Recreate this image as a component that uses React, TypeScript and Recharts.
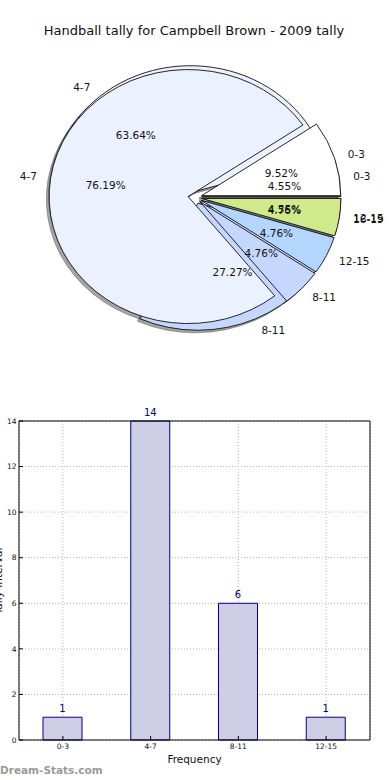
import React from 'react';
import { PieChart, Pie, Cell, BarChart, Bar, XAxis, YAxis, CartesianGrid, LabelList } from 'recharts';

const chartTitle = 'Handball tally for Campbell Brown - 2009 tally';
const upperRanges = ['0-3', '4-7', '8-11', '12-15', '16-19'];
const upperValues = [2, 16, 1, 1, 1];
const lowerRanges = ['0-3', '4-7', '8-11', '12-15'];
const lowerValues = [1, 14, 6, 1];
const barCategories = ['0-3', '4-7', '8-11', '12-15'];
const barValues = [1, 14, 6, 1];
const yTicks = [0, 2, 4, 6, 8, 10, 12, 14];
const xAxisTitle = 'Frequency';
const yAxisTitle = 'Tally Interval';
const watermark = 'Dream-Stats.com';

const sliceColors = ['#ffffff', '#ebf1fe', '#c6d7fe', '#b4d6fe', '#d0ea8b'];

const upperData = upperRanges.map((name, i) => ({ name, value: upperValues[i] }));
const lowerData = lowerRanges.map((name, i) => ({ name, value: lowerValues[i] }));
const barData = barCategories.map((range, i) => ({ range, count: barValues[i] }));

const FONT = '"DejaVu Sans", sans-serif';
const Y_SQUASH = 127 / 139;
const EXPLODE = 0.05;
const RAD = Math.PI / 180;

function wedgePath(p: any, shadow: boolean) {
  const rx = p.outerRadius;
  const ry = rx * Y_SQUASH;
  const s = p.startAngle;
  const e = p.endAngle;
  const mid = ((s + e) / 2) * RAD;
  let ox = p.cx + EXPLODE * rx * Math.cos(mid);
  let oy = p.cy - EXPLODE * ry * Math.sin(mid);
  if (shadow) {
    ox -= 0.02 * rx;
    oy += 0.02 * ry;
  }
  const x1 = ox + rx * Math.cos(s * RAD);
  const y1 = oy - ry * Math.sin(s * RAD);
  const x2 = ox + rx * Math.cos(e * RAD);
  const y2 = oy - ry * Math.sin(e * RAD);
  const large = Math.abs(e - s) > 180 ? 1 : 0;
  const sweep = e > s ? 0 : 1;
  return `M${ox},${oy}L${x1},${y1}A${rx},${ry} 0 ${large} ${sweep} ${x2},${y2}Z`;
}

const WedgeShape = (p: any) => (
  <path d={wedgePath(p, false)} fill={p.fill} stroke="#111" strokeWidth={0.9} strokeLinejoin="miter" />
);
const ShadowShape = (p: any) => (
  <path d={wedgePath(p, true)} fill="#4c4c4c" fillOpacity={0.5} stroke="#4c4c4c" strokeOpacity={0.5} strokeWidth={0.9} />
);
const EmptyShape = () => <g />;

const PieLabel = (p: any) => {
  const rx = p.outerRadius;
  const ry = rx * Y_SQUASH;
  const m = p.midAngle * RAD;
  const c = Math.cos(m);
  const sn = Math.sin(m);
  const lx = p.cx + (1.1 + EXPLODE) * rx * c;
  const ly = p.cy - (1.1 + EXPLODE) * ry * sn;
  const px = p.cx + (0.6 + EXPLODE) * rx * c;
  const py = p.cy - (0.6 + EXPLODE) * ry * sn;
  const pct = (p.percent * 100).toFixed(2) + '%';
  const name = p.name ?? (p.payload && p.payload.name);
  return (
    <g>
      <text x={lx} y={ly} dy="0.36em" textAnchor={c > 0 ? 'start' : 'end'} fontSize={10.5} fill="#111" fontFamily={FONT}>
        {name}
      </text>
      <text x={px} y={py} dy="0.36em" textAnchor="middle" fontSize={10.5} fill="#111" fontFamily={FONT}>
        {pct}
      </text>
    </g>
  );
};

const CX = 195;
const CY = 197.5;
const R = 139;

export default function App() {
  return (
    <div
      style={{
        position: 'absolute',
        left: 0,
        top: 0,
        width: 390,
        height: 780,
        background: '#fff',
        overflow: 'hidden',
        fontFamily: FONT,
      }}
    >
      <div style={{ position: 'absolute', left: 0, top: 0 }}>
        <PieChart width={390} height={390} margin={{ top: 0, right: 0, bottom: 0, left: 0 }}>
          <Pie data={lowerData} dataKey="value" nameKey="name" cx={CX} cy={CY} outerRadius={R} startAngle={0} endAngle={360}
            shape={ShadowShape} inactiveShape={ShadowShape} fill="none" stroke="none" labelLine={false} isAnimationActive={false} />
          <Pie data={upperData} dataKey="value" nameKey="name" cx={CX} cy={CY} outerRadius={R} startAngle={0} endAngle={360}
            shape={ShadowShape} inactiveShape={ShadowShape} fill="none" stroke="none" labelLine={false} isAnimationActive={false} />
          <Pie data={lowerData} dataKey="value" nameKey="name" cx={CX} cy={CY} outerRadius={R} startAngle={0} endAngle={360}
            shape={WedgeShape} inactiveShape={WedgeShape} stroke="#111" labelLine={false} isAnimationActive={false}>
            {lowerData.map((d, i) => (
              <Cell key={d.name} fill={sliceColors[i]} />
            ))}
          </Pie>
          <Pie data={upperData} dataKey="value" nameKey="name" cx={CX} cy={CY} outerRadius={R} startAngle={0} endAngle={360}
            shape={WedgeShape} inactiveShape={WedgeShape} stroke="#111" labelLine={false} isAnimationActive={false}>
            {upperData.map((d, i) => (
              <Cell key={d.name} fill={sliceColors[i]} />
            ))}
          </Pie>
          <Pie data={lowerData} dataKey="value" nameKey="name" cx={CX} cy={CY} outerRadius={R} startAngle={0} endAngle={360}
            shape={EmptyShape} inactiveShape={EmptyShape} fill="none" stroke="none" label={PieLabel} labelLine={false} isAnimationActive={false} />
          <Pie data={upperData} dataKey="value" nameKey="name" cx={CX} cy={CY} outerRadius={R} startAngle={0} endAngle={360}
            shape={EmptyShape} inactiveShape={EmptyShape} fill="none" stroke="none" label={PieLabel} labelLine={false} isAnimationActive={false} />
        </PieChart>
      </div>
      <div style={{ position: 'absolute', left: 0, top: 400 }}>
        <BarChart width={390} height={380} data={barData} margin={{ top: 20, right: 19, bottom: 20, left: 0 }}>
          <CartesianGrid stroke="#b4b4b4" strokeDasharray="1 2" />
          <XAxis dataKey="range" height={20} interval={0} tickSize={-4} tickMargin={8}
            axisLine={{ stroke: '#000' }} tickLine={{ stroke: '#000' }}
            tick={{ fontSize: 7.5, fill: '#111', fontFamily: FONT }}
            label={{ value: xAxisTitle, position: 'bottom', offset: -4, fontSize: 10.5, fill: '#111', fontFamily: FONT }} />
          <XAxis xAxisId="top" dataKey="range" orientation="top" height={1} interval={0} tickSize={-4} tick={false}
            axisLine={{ stroke: '#000' }} tickLine={{ stroke: '#000' }} />
          <YAxis domain={[0, 14]} ticks={yTicks} width={19} tickSize={-4} tickMargin={6.5} interval={0}
            axisLine={{ stroke: '#000' }} tickLine={{ stroke: '#000' }}
            tick={{ fontSize: 7.5, fill: '#111', fontFamily: FONT }} />
          <YAxis yAxisId="right" orientation="right" domain={[0, 14]} ticks={yTicks} width={1} tickSize={-4} tick={false} interval={0}
            axisLine={{ stroke: '#000' }} tickLine={{ stroke: '#000' }} />
          <Bar dataKey="count" fill="#cdcde6" stroke="#000080" strokeWidth={1} barSize={39} isAnimationActive={false}>
            <LabelList dataKey="count" position="top" offset={5} fill="#000080" fontSize={10} fontFamily={FONT} />
          </Bar>
        </BarChart>
      </div>
      <svg width={390} height={780} style={{ position: 'absolute', left: 0, top: 0, pointerEvents: 'none' }}>
        <text x={194} y={34.5} textAnchor="middle" fontSize={13} fill="#111" fontFamily={FONT}>
          {chartTitle}
        </text>
        <text x={2} y={581} textAnchor="middle" fontSize={10.5} fill="#111" fontFamily={FONT} transform="rotate(-90 2 581)">
          {yAxisTitle}
        </text>
        <text x={0} y={774} textAnchor="start" fontSize={10.5} fontWeight="bold" fill="#9a9a9a" fontFamily={FONT}>
          {watermark}
        </text>
      </svg>
    </div>
  );
}
